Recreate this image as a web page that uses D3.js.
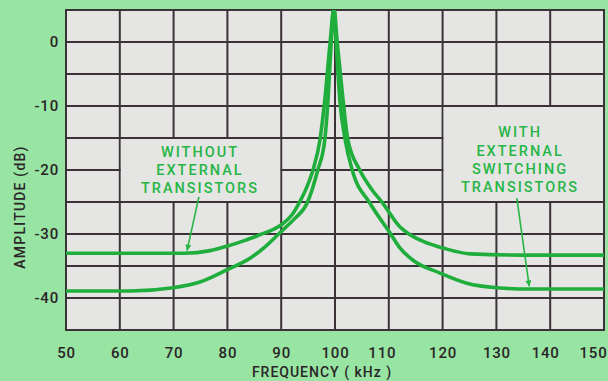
<!DOCTYPE html>
<html><head><meta charset="utf-8">
<script src="https://cdn.jsdelivr.net/npm/d3@7"></script>
<style>
html,body{margin:0;padding:0;background:#97e3a1;}
svg{display:block;}
text{font-family:Roboto,"Open Sans",sans-serif;}
</style></head><body>
<svg id="chart" width="608" height="381"></svg>
<script>
// ---------- data ----------
const freqTicks = [50,60,70,80,90,100,110,120,130,140,150];
const dbGridLines = [5,0,-5,-10,-15,-20,-25,-30,-35,-40,-45];
const dbTickLabels = [0,-10,-20,-30,-40];

// "WITHOUT EXTERNAL TRANSISTORS"
const withoutFreq = [50,62,72,76.8,79.9,83.3,86.1,88.5,90.3,92.0,93.3,94.7,95.9,97.2,98.1,99.1,99.8,100.4,101.5,102.4,104.6,106.8,108.9,112.1,113.4,116.5,120.1,125.1,135,150];
const withoutDb   = [-33.0,-33.0,-33.0,-32.6,-31.9,-31.0,-30.1,-29.3,-28.4,-27.0,-25.2,-22.8,-20.0,-15.3,-9.1,0,5.3,0,-9.1,-15.3,-20.0,-23.0,-25.2,-28.9,-29.8,-31.2,-32.2,-33.1,-33.3,-33.3];

// "WITH EXTERNAL SWITCHING TRANSISTORS"
const withFreq = [50,62,69.9,74.9,79.9,84.2,87.0,90.0,92.5,94.8,96.8,98.1,98.7,99.3,99.8,100.2,100.9,101.9,103.2,106.5,110.2,112.1,114.5,119.5,124.5,130.1,136.2,150];
const withDb   = [-38.9,-38.9,-38.4,-37.5,-35.6,-33.8,-32.0,-29.6,-27.6,-25.2,-20.0,-15.3,-9.1,0,5.3,0,-9.1,-15.3,-20.0,-25.2,-29.8,-32.2,-34.1,-36.1,-37.7,-38.4,-38.6,-38.6];

const leftNoteLines  = ["WITHOUT","EXTERNAL","TRANSISTORS"];
const rightNoteLines = ["WITH","EXTERNAL","SWITCHING","TRANSISTORS"];

// ---------- layout ----------
const W = 608, H = 381;
const plot = {left:66, right:604, top:10, bottom:330};
const green = "#1fae3c", textGreen = "#27b646", gridColor = "#3a3237", ink = "#2b2527";
// hand-lettered label nudges (pixels) seen in the original
const xLabelNudge = {110:-7, 140:-5, 150:-11};

const x = d3.scaleLinear().domain([50,150]).range([plot.left, plot.right]);
const y = d3.scaleLinear().domain([-45,5]).range([plot.bottom, plot.top]);

const svg = d3.select("#chart");
svg.append("rect").attr("width",W).attr("height",H).attr("fill","#98e4a3");

const defs = svg.append("defs");
defs.append("clipPath").attr("id","clip").append("rect")
  .attr("x",plot.left).attr("y",plot.top)
  .attr("width",plot.right-plot.left).attr("height",plot.bottom-plot.top);
defs.append("marker").attr("id","arrow").attr("viewBox","0 0 10 10")
  .attr("refX",10).attr("refY",5).attr("markerWidth",9).attr("markerHeight",6)
  .attr("markerUnits","userSpaceOnUse").attr("orient","auto")
  .append("path").attr("d","M0,0 L10,5 L0,10 Z").attr("fill",textGreen);

// plot background
svg.append("rect").attr("x",plot.left).attr("y",plot.top)
  .attr("width",plot.right-plot.left).attr("height",plot.bottom-plot.top)
  .attr("fill","#e5e5e3");

// grid
const grid = svg.append("g").attr("stroke",gridColor).attr("stroke-width",2);
grid.selectAll("line.v").data(freqTicks).join("line")
  .attr("x1",d=>x(d)).attr("x2",d=>x(d)).attr("y1",y(5)).attr("y2",y(-45));
grid.selectAll("line.h").data(dbGridLines).join("line")
  .attr("y1",d=>y(d)).attr("y2",d=>y(d)).attr("x1",x(50)).attr("x2",x(150));

// annotation boxes that interrupt the grid
const boxes = [
  {f0:60, f1:90, d0:-15, d1:-25},
  {f0:120, f1:150, d0:-10, d1:-25}
];
svg.selectAll("rect.box").data(boxes).join("rect")
  .attr("x",d=>x(d.f0)+1).attr("y",d=>y(d.d0)+1)
  .attr("width",d=>x(d.f1)-x(d.f0)-2).attr("height",d=>y(d.d1)-y(d.d0)-2)
  .attr("fill","#e5e5e3");

// frame
svg.append("rect").attr("x",plot.left).attr("y",plot.top)
  .attr("width",plot.right-plot.left).attr("height",plot.bottom-plot.top)
  .attr("fill","none").attr("stroke",gridColor).attr("stroke-width",2);

// curves
const line = d3.line().x(d=>x(d[0])).y(d=>y(d[1])).curve(d3.curveMonotoneX);
const series = [
  d3.zip(withoutFreq, withoutDb),
  d3.zip(withFreq, withDb)
];
svg.append("g").attr("clip-path","url(#clip)")
  .selectAll("path").data(series).join("path")
  .attr("d",line).attr("fill","none").attr("stroke",green)
  .attr("stroke-width",3.6).attr("stroke-linejoin","round");

// axes
const xAxis = svg.append("g").attr("transform",`translate(0,${plot.bottom})`)
  .call(d3.axisBottom(x).tickValues(freqTicks).tickSize(0).tickPadding(17).tickFormat(d3.format("d")));
const yAxis = svg.append("g").attr("transform",`translate(${plot.left},0)`)
  .call(d3.axisLeft(y).tickValues(dbTickLabels).tickSize(0).tickPadding(7).tickFormat(d=>d===0?"0":String(d)));
[xAxis,yAxis].forEach(a=>{
  a.select(".domain").remove();
  a.selectAll("text").attr("fill",ink).attr("font-size",15).attr("font-weight",500)
    .style("letter-spacing","0.8px").style("font-family","Roboto, sans-serif");
});
xAxis.selectAll(".tick text").attr("dx",d=>xLabelNudge[d]||0);

// axis titles
svg.append("text").attr("x",322).attr("y",377).attr("text-anchor","middle")
  .attr("fill",ink).attr("font-size",14).attr("font-weight",500)
  .style("letter-spacing","1px").text("FREQUENCY ( kHz )");
svg.append("text").attr("transform","translate(25,207) rotate(-90)")
  .attr("text-anchor","middle").attr("fill",ink).attr("font-size",14).attr("font-weight",500)
  .style("letter-spacing","1.2px").text("AMPLITUDE (dB)");

// annotation text
function note(lines, cf, firstDb, stepPx){
  const g = svg.append("g");
  g.selectAll("text").data(lines).join("text")
    .attr("x",x(cf)).attr("y",(d,i)=>y(firstDb)+i*stepPx)
    .attr("dy","0.36em").attr("text-anchor","middle")
    .attr("fill",textGreen).attr("font-size",14.5).attr("font-weight",500)
    .style("letter-spacing","2px").text(d=>d);
}
note(leftNoteLines, 74.9, -17.1, 18);
note(rightNoteLines, 134.4, -14.1, 18.2);

// arrows
const arrows = [
  {f0:74.7, d0:-24.2, f1:72.5, d1:-32.6},
  {f0:133.8, d0:-24.4, f1:136.1, d1:-38.2}
];
svg.selectAll("line.arrow").data(arrows).join("line")
  .attr("x1",d=>x(d.f0)).attr("y1",d=>y(d.d0)).attr("x2",d=>x(d.f1)).attr("y2",d=>y(d.d1))
  .attr("stroke",textGreen).attr("stroke-width",1.6).attr("marker-end","url(#arrow)");
</script>
</body></html>
